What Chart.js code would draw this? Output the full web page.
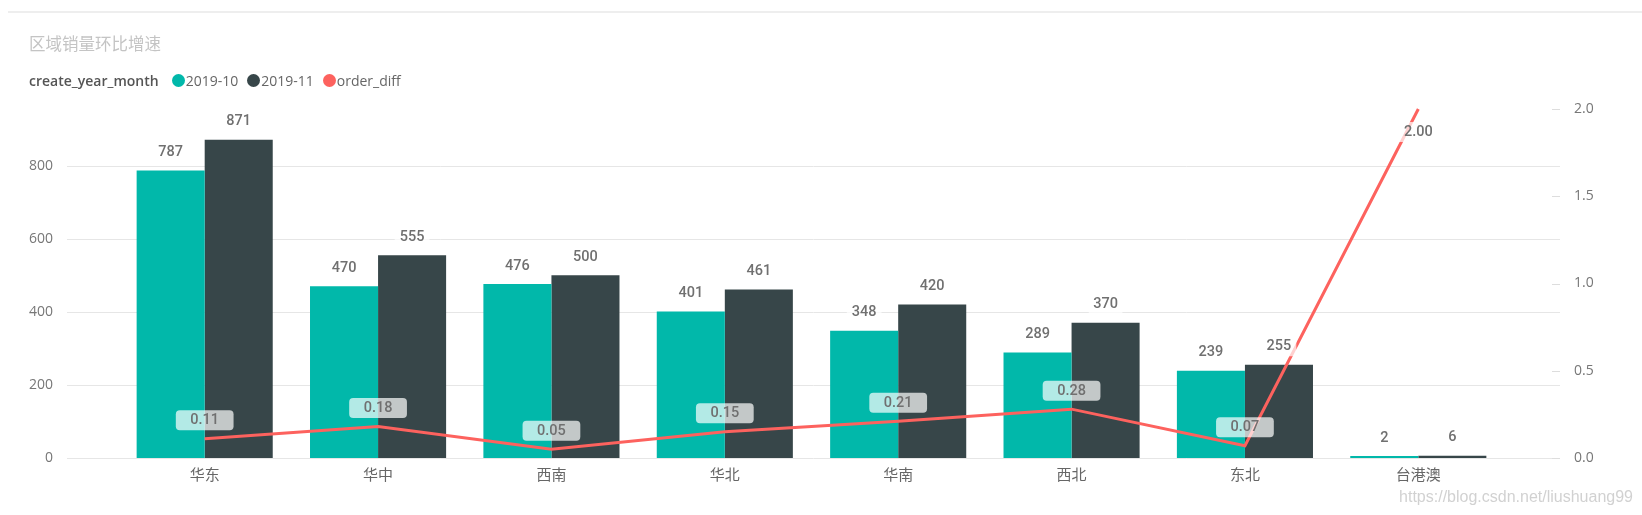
<!DOCTYPE html>
<html>
<head>
<meta charset="utf-8">
<script src="https://cdn.jsdelivr.net/npm/chart.js@4.4.0/dist/chart.umd.min.js"></script>
<style>
  html, body { margin: 0; padding: 0; background: #fff; }
  #wrap { position: relative; width: 1642px; height: 515px; overflow: hidden; }
  #topline { position: absolute; left: 8px; right: 0; top: 11px; height: 2px; background: #eeeeee; }
  #title { position: absolute; left: 29px; top: 33px; line-height: 21px; font-size: 16.5px;
           font-family: "Noto Sans CJK SC", sans-serif; color: #c4c4c4; }
  #legend { position: absolute; left: 29px; top: 70px; height: 20px; display: flex; align-items: center;
            font-size: 14px; font-family: "Open Sans", "Noto Sans", sans-serif; color: #666; white-space: nowrap; }
  #legend .head { font-weight: 600; color: #555; margin-right: 13px; }
  #legend .dot { width: 13px; height: 13px; border-radius: 50%; margin-right: 1px; }
  #legend .item { display: flex; align-items: center; margin-right: 9px; }
  #mark { position: absolute; right: 9px; top: 487px; font-size: 16px; line-height: 20px;
          font-family: "Liberation Sans", Arial, sans-serif; color: rgba(190,190,190,0.7); }
  canvas { position: absolute; left: 0; top: 0; }
</style>
</head>
<body>
<div id="wrap">
  <canvas id="chart" width="1642" height="515"></canvas>
  <div id="topline"></div>
  <div id="title">区域销量环比增速</div>
  <div id="legend"></div>
  <div id="mark">https://blog.csdn.net/liushuang99</div>
</div>
<script>
// data
const categories = ['华东', '华中', '西南', '华北', '华南', '西北', '东北', '台港澳'];
const seriesNames = ['2019-10', '2019-11', 'order_diff'];
const seriesColors = ['#01B8AA', '#374649', '#FD625E'];
const orders201910 = [787, 470, 476, 401, 348, 289, 239, 2];
const orders201911 = [871, 555, 500, 461, 420, 370, 255, 6];
const orderDiff = [0.11, 0.18, 0.05, 0.15, 0.21, 0.28, 0.07, 2.00];
const leftMax = 955;
const leftStep = 200;
const rightMax = 2;
const rightStep = 0.5;

// legend in html
const legend = document.getElementById('legend');
legend.innerHTML = '<span class="head">create_year_month</span>';
seriesNames.forEach((name, i) => {
  const item = document.createElement('span');
  item.className = 'item';
  item.innerHTML = '<span class="dot" style="background:' + seriesColors[i] + '"></span>' + name;
  legend.appendChild(item);
});

// big tick padding would also push the plot area up, so drop it after fit
function fixAxis(width) {
  return s => {
    s.width = width;
    s.paddingTop = 10;
    s.paddingBottom = 10;
  };
}

// gridlines run wider than the bar area, so draw them ourselves
const wideGrid = {
  id: 'wideGrid',
  beforeDatasetsDraw(chart) {
    const ctx = chart.ctx;
    const y = chart.scales.y;
    const y1 = chart.scales.y1;
    ctx.save();
    ctx.strokeStyle = '#e6e6e6';
    ctx.lineWidth = 1;
    y.ticks.forEach(t => {
      const py = Math.round(y.getPixelForValue(t.value)) + 0.5;
      ctx.beginPath();
      ctx.moveTo(67, py);
      ctx.lineTo(1560, py);
      ctx.stroke();
    });
    ctx.strokeStyle = '#dddddd';
    y1.ticks.forEach(t => {
      const py = Math.round(y1.getPixelForValue(t.value)) + 0.5;
      ctx.beginPath();
      ctx.moveTo(1552, py);
      ctx.lineTo(1560, py);
      ctx.stroke();
    });
    ctx.restore();
  }
};

// value labels with a faded white box behind them
const valueLabels = {
  id: 'valueLabels',
  afterDatasetsDraw(chart) {
    const ctx = chart.ctx;
    const top = chart.chartArea.top;
    ctx.save();
    ctx.font = '500 14.5px Roboto, "DejaVu Sans", sans-serif';
    ctx.textAlign = 'center';
    ctx.textBaseline = 'middle';
    chart.data.datasets.forEach((ds, i) => {
      const meta = chart.getDatasetMeta(i);
      const isLine = ds.type === 'line';
      meta.data.forEach((el, j) => {
        const text = isLine ? ds.data[j].toFixed(2) : String(ds.data[j]);
        const w = ctx.measureText(text).width;
        let cy = el.y - 18.5;
        if (cy - 10 < top) cy = el.y + 23;
        const bw = isLine ? w + 29 : w + 10;
        const bh = 20;
        ctx.fillStyle = 'rgba(255,255,255,0.7)';
        ctx.beginPath();
        ctx.roundRect(el.x - bw / 2, cy - bh / 2, bw, bh, 4);
        ctx.fill();
        ctx.fillStyle = '#707070';
        ctx.fillText(text, el.x, cy + 0.5);
      });
    });
    ctx.restore();
  }
};

new Chart(document.getElementById('chart'), {
  data: {
    labels: categories,
    datasets: [
      {
        type: 'line',
        label: seriesNames[2],
        data: orderDiff,
        yAxisID: 'y1',
        borderColor: seriesColors[2],
        borderWidth: 3,
        pointRadius: 0,
        tension: 0,
        clip: false,
        order: 0
      },
      {
        type: 'bar',
        label: seriesNames[0],
        data: orders201910,
        yAxisID: 'y',
        backgroundColor: seriesColors[0],
        barPercentage: 1,
        categoryPercentage: 0.785,
        minBarLength: 2,
        order: 1
      },
      {
        type: 'bar',
        label: seriesNames[1],
        data: orders201911,
        yAxisID: 'y',
        backgroundColor: seriesColors[1],
        barPercentage: 1,
        categoryPercentage: 0.785,
        minBarLength: 2,
        order: 1
      }
    ]
  },
  options: {
    responsive: false,
    animation: false,
    layout: { padding: { top: 109, left: 0, right: 0, bottom: 0 } },
    plugins: {
      legend: { display: false },
      tooltip: { enabled: false }
    },
    scales: {
      x: {
        grid: { display: false, drawTicks: false },
        border: { display: false },
        ticks: {
          color: '#666',
          padding: 7,
          font: { family: '"Noto Sans CJK SC", sans-serif', size: 15 }
        },
        afterFit: s => { s.height = 57; }
      },
      y: {
        position: 'left',
        min: 0,
        max: leftMax,
        grid: { display: false, drawTicks: false },
        border: { display: false },
        ticks: {
          stepSize: leftStep,
          includeBounds: false,
          color: '#777',
          padding: 65,
          font: { family: '"Open Sans", "Noto Sans", sans-serif', size: 14 }
        },
        afterFit: fixAxis(118)
      },
      y1: {
        position: 'right',
        min: 0,
        max: rightMax,
        grid: { display: false, drawTicks: false },
        border: { display: false },
        ticks: {
          stepSize: rightStep,
          color: '#777',
          padding: 69,
          callback: v => v.toFixed(1),
          font: { family: '"Open Sans", "Noto Sans", sans-serif', size: 14 }
        },
        afterFit: fixAxis(137)
      }
    }
  },
  plugins: [wideGrid, valueLabels]
});
</script>
</body>
</html>
